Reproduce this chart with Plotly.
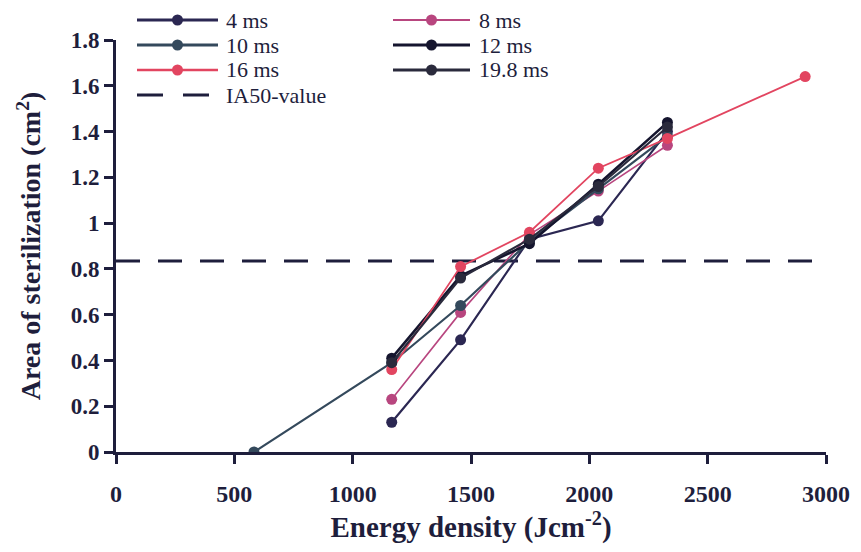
import plotly.graph_objects as go

# Energy density levels (J/cm^2)
energy = [583, 1165, 1456, 1747, 2038, 2330, 2912]

# Sterilised area (cm^2) per pulse duration
area_4ms = [0.13, 0.49, 0.93, 1.01, 1.40]
area_8ms = [0.23, 0.61, 0.95, 1.14, 1.34]
area_10ms = [0.0, 0.39, 0.64, 0.92, 1.15, 1.38]
area_12ms = [0.41, 0.77, 0.91, 1.17, 1.44]
area_16ms = [0.36, 0.81, 0.96, 1.24, 1.37, 1.64]
area_19_8ms = [0.39, 0.76, 0.93, 1.16, 1.42]

ia50_value = 0.835

x_ticks = [0, 500, 1000, 1500, 2000, 2500, 3000]
y_ticks = [0, 0.2, 0.4, 0.6, 0.8, 1, 1.2, 1.4, 1.6, 1.8]
y_tick_text = ["0", "0.2", "0.4", "0.6", "0.8", "1", "1.2", "1.4", "1.6", "1.8"]

# name, x, y, colour, line width, key column, key row
series = [
    ("4 ms", energy[1:6], area_4ms, "#2b2752", 2.2, 0, 0),
    ("8 ms", energy[1:6], area_8ms, "#b8467f", 1.6, 1, 0),
    ("10 ms", energy[0:6], area_10ms, "#34495c", 2.2, 0, 1),
    ("12 ms", energy[1:6], area_12ms, "#15152e", 2.6, 1, 1),
    ("16 ms", energy[1:7], area_16ms, "#e24560", 1.8, 0, 2),
    ("19.8 ms", energy[1:6], area_19_8ms, "#2a2a3c", 2.2, 1, 2),
]

W, H = 861, 552
M = dict(l=116, r=35, t=40, b=100)
PW = W - M["l"] - M["r"]
PH = H - M["t"] - M["b"]


def px(xp):
    return (xp - M["l"]) / PW


def py(yp):
    return (H - M["b"] - yp) / PH


SERIF = "Liberation Serif, Times New Roman, serif"
INK = "#1e1e3c"
KEY_SIZE = 22

fig = go.Figure()

# IA50 reference line spanning the whole energy axis
fig.add_trace(go.Scatter(
    x=[x_ticks[0], x_ticks[-1]], y=[ia50_value, ia50_value],
    mode="lines", name="IA50-value",
    line=dict(color=INK, width=3, dash="24px,18px"),
    showlegend=False,
))

for name, xs, ys, color, lw, col, row in series:
    fig.add_trace(go.Scatter(
        x=xs, y=ys, mode="lines+markers", name=name,
        line=dict(color=color, width=lw),
        marker=dict(color=color, size=11, symbol="circle"),
        showlegend=False,
    ))

# Two-column key drawn above the plot area
col_x = [(137, 218, 224), (393, 470, 477)]
row_y = [20, 45, 70, 95]
shapes = []
annotations = []
for name, xs, ys, color, lw, col, row in series:
    x0, x1, xt = col_x[col]
    yr = row_y[row]
    shapes.append(dict(type="line", xref="paper", yref="paper",
                       x0=px(x0), x1=px(x1), y0=py(yr), y1=py(yr),
                       line=dict(color=color, width=lw + 0.6)))
    cx = (x0 + x1) / 2
    shapes.append(dict(type="circle", xref="paper", yref="paper",
                       x0=px(cx - 5.5), x1=px(cx + 5.5), y0=py(yr + 5.5), y1=py(yr - 5.5),
                       fillcolor=color, line=dict(color=color, width=0)))
    annotations.append(dict(xref="paper", yref="paper", x=px(xt), y=py(yr),
                            xanchor="left", yanchor="middle", showarrow=False,
                            text=name, font=dict(family=SERIF, size=KEY_SIZE, color=INK)))

x0, x1, xt = col_x[0]
shapes.append(dict(type="line", xref="paper", yref="paper",
                   x0=px(x0), x1=px(x1 - 4), y0=py(row_y[3]), y1=py(row_y[3]),
                   line=dict(color=INK, width=3, dash="26px,20px")))
annotations.append(dict(xref="paper", yref="paper", x=px(xt), y=py(row_y[3]),
                        xanchor="left", yanchor="middle", showarrow=False,
                        text="IA50-value", font=dict(family=SERIF, size=KEY_SIZE, color=INK)))

fig.update_layout(
    width=W, height=H,
    margin=M,
    paper_bgcolor="white", plot_bgcolor="white",
    showlegend=False,
    shapes=shapes,
    annotations=annotations,
    xaxis=dict(
        range=[0, 3000], tickvals=x_ticks, showgrid=False, zeroline=False,
        showline=True, linecolor=INK, linewidth=3,
        ticks="outside", ticklen=9, tickwidth=2.5, tickcolor=INK,
        ticklabelstandoff=9,
        tickfont=dict(family=SERIF, size=24, color=INK, weight="bold"),
        title=dict(text="Energy density (Jcm<sup>-2</sup>)", standoff=6,
                   font=dict(family=SERIF, size=29, color=INK, weight="bold")),
    ),
    yaxis=dict(
        range=[0, 1.8], tickvals=y_ticks, ticktext=y_tick_text, showgrid=False, zeroline=False,
        showline=True, linecolor=INK, linewidth=3,
        ticks="outside", ticklen=9, tickwidth=2.5, tickcolor=INK,
        tickfont=dict(family=SERIF, size=23, color=INK, weight="bold"),
        title=dict(text="Area of sterilization (cm<sup>2</sup>)", standoff=22,
                   font=dict(family=SERIF, size=28, color=INK, weight="bold")),
    ),
)

fig.write_html("out.html")
